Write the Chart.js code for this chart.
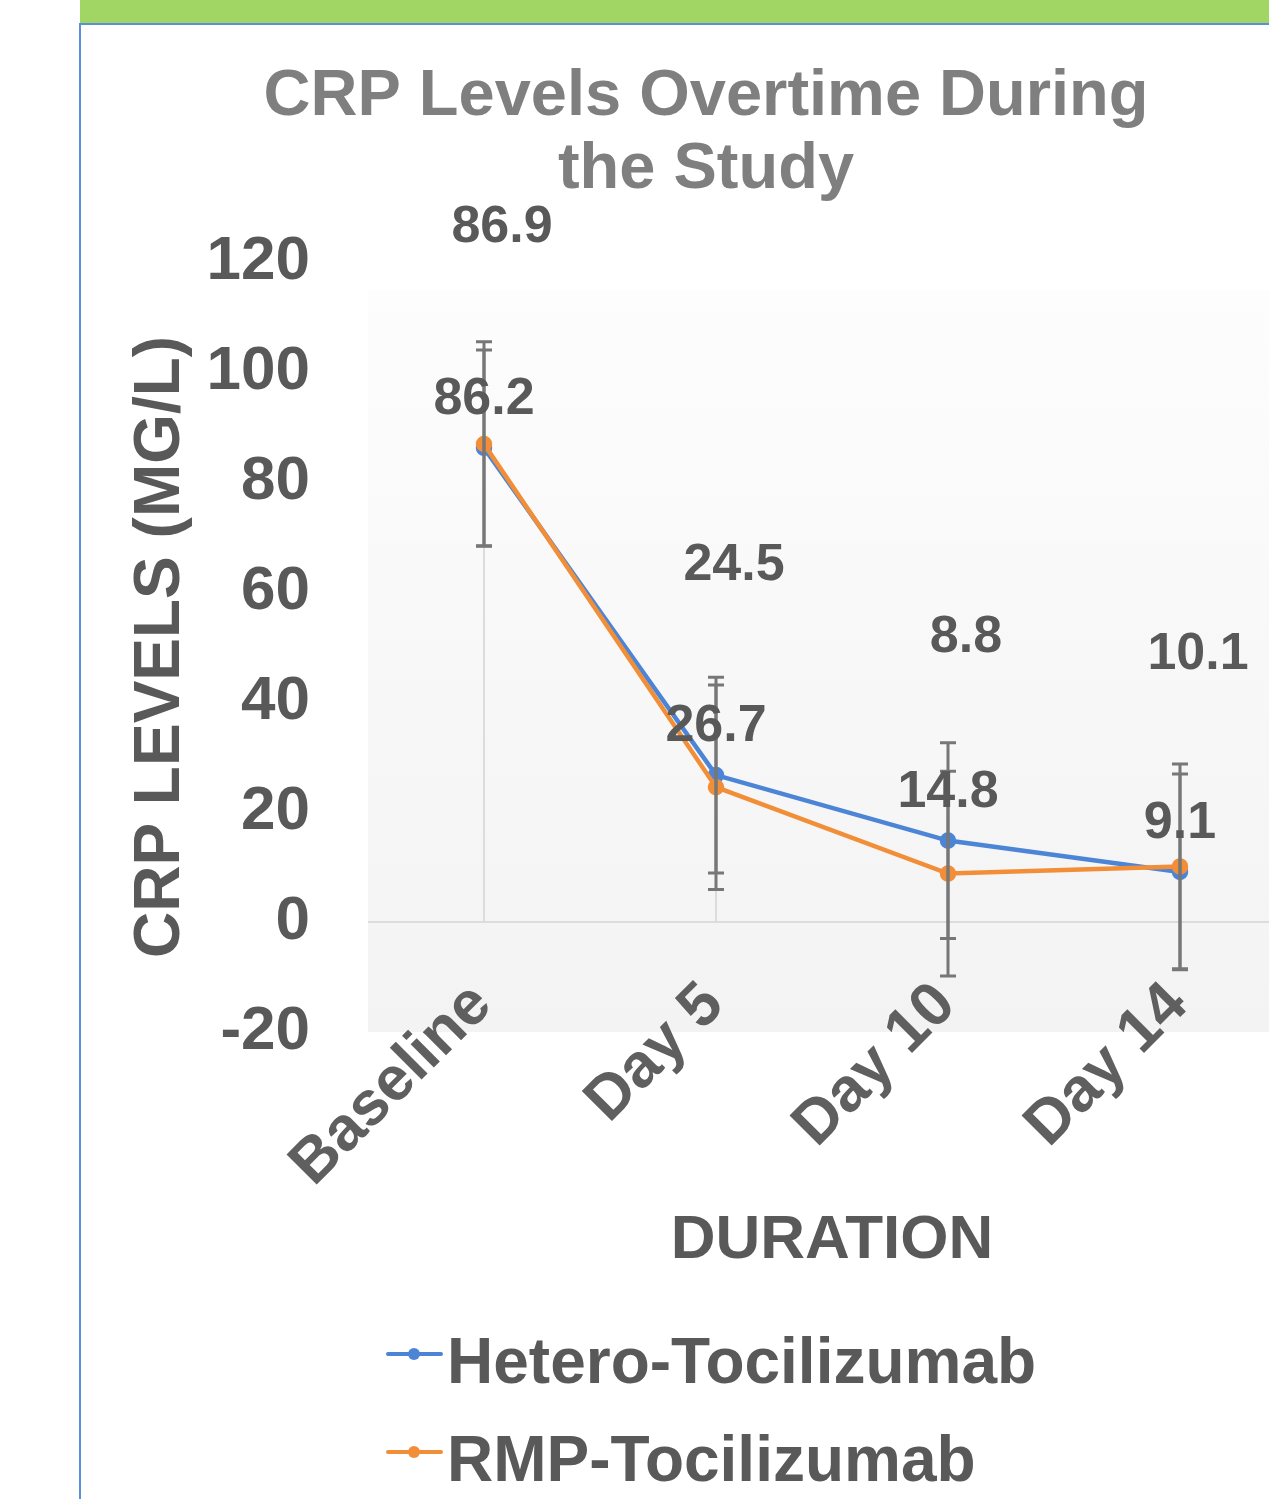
<!DOCTYPE html>
<html>
<head>
<meta charset="utf-8">
<title>CRP Levels</title>
<script src="https://cdn.jsdelivr.net/npm/chart.js"></script>
<style>
body{margin:0;width:1269px;height:1499px;overflow:hidden;background:#fff;}
#topbar{position:absolute;left:80px;top:0;width:1189px;height:23px;background:#a1d664;}
#frame{position:absolute;left:79px;top:23px;width:1188px;height:1474px;border-left:2px solid #5b8fdc;border-top:2px solid #5b8fdc;overflow:hidden;}
#crpChart{position:absolute;left:0;top:0;}
</style>
</head>
<body>
<div id="topbar"></div>
<div id="frame"><canvas id="crpChart" width="1250" height="1474"></canvas></div>
<script>
const categories = ['Baseline', 'Day 5', 'Day 10', 'Day 14'];
const heteroMeans = [86.2, 26.7, 14.8, 9.1];
const rmpMeans = [86.9, 24.5, 8.8, 10.1];
const heteroErr = [17.8, 17.8, 17.8, 17.8];
const rmpErr = [18.6, 18.6, 18.6, 18.6];
const yTicks = [-20, 0, 20, 40, 60, 80, 100, 120];

const fontFam = '"Liberation Sans", Arial, sans-serif';
const textGray = '#595959';
const blue = '#4d85d6';
const orange = '#f28e37';

// where excel put the value labels (pixels above the point)
const heteroLift = 48;
const rmpLift = [216, 222, 236, 212];
const rmpShift = 18;

const plotBg = {
    id: 'plotBg',
    beforeDraw: (chart) => {
        const {ctx, chartArea, scales} = chart;
        const top = scales.y.getPixelForValue(115);
        const bottom = scales.y.getPixelForValue(-20);
        const g = ctx.createLinearGradient(0, top, 0, bottom);
        g.addColorStop(0, '#fdfdfd');
        g.addColorStop(1, '#f3f3f3');
        ctx.save();
        ctx.fillStyle = g;
        ctx.fillRect(chartArea.left, top, chartArea.right - chartArea.left, bottom - top);
        ctx.restore();
    }
};

// drop lines from the higher point down to zero
const dropLines = {
    id: 'dropLines',
    beforeDatasetsDraw: (chart) => {
        const {ctx, scales} = chart;
        const zero = scales.y.getPixelForValue(0);
        ctx.save();
        ctx.strokeStyle = '#dcdcdc';
        ctx.lineWidth = 2;
        categories.forEach((c, i) => {
            const x = scales.x.getPixelForValue(i);
            const top = scales.y.getPixelForValue(Math.max(heteroMeans[i], rmpMeans[i]));
            ctx.beginPath();
            ctx.moveTo(x, top);
            ctx.lineTo(x, zero);
            ctx.stroke();
        });
        ctx.restore();
    }
};

const errorsAndLabels = {
    id: 'errorsAndLabels',
    afterDatasetsDraw: (chart) => {
        const {ctx, scales} = chart;
        const sets = [[heteroMeans, heteroErr], [rmpMeans, rmpErr]];
        ctx.save();
        ctx.strokeStyle = '#777777';
        ctx.lineWidth = 3;
        sets.forEach((s, d) => {
            const meta = chart.getDatasetMeta(d);
            s[0].forEach((v, i) => {
                const x = meta.data[i].x;
                const hi = scales.y.getPixelForValue(v + s[1][i]);
                const lo = scales.y.getPixelForValue(v - s[1][i]);
                ctx.beginPath();
                ctx.moveTo(x, hi); ctx.lineTo(x, lo);
                ctx.moveTo(x - 8, hi); ctx.lineTo(x + 8, hi);
                ctx.moveTo(x - 8, lo); ctx.lineTo(x + 8, lo);
                ctx.stroke();
            });
        });

        ctx.fillStyle = textGray;
        ctx.font = 'bold 52px ' + fontFam;
        ctx.textAlign = 'center';
        ctx.textBaseline = 'middle';
        const hMeta = chart.getDatasetMeta(0);
        const rMeta = chart.getDatasetMeta(1);
        heteroMeans.forEach((v, i) => {
            const p = hMeta.data[i];
            ctx.fillText(v.toFixed(1), p.x, p.y - heteroLift);
        });
        rmpMeans.forEach((v, i) => {
            const p = rMeta.data[i];
            ctx.fillText(v.toFixed(1), p.x + rmpShift, p.y - rmpLift[i]);
        });
        ctx.restore();
    }
};

// category labels, slanted 45deg and tucked up into the plot like excel does
const slantLabels = {
    id: 'slantLabels',
    afterDraw: (chart) => {
        const {ctx, chartArea, scales} = chart;
        ctx.save();
        ctx.fillStyle = '#5f5f5f';
        ctx.font = 'bold 62px ' + fontFam;
        ctx.textAlign = 'right';
        ctx.textBaseline = 'middle';
        categories.forEach((c, i) => {
            const x = scales.x.getPixelForValue(i);
            ctx.save();
            ctx.translate(x - 2, chartArea.bottom - 37);
            ctx.rotate(-Math.PI / 4);
            ctx.fillText(c, 0, 0);
            ctx.restore();
        });
        ctx.restore();
    }
};

const sideLegend = {
    id: 'sideLegend',
    afterDraw: (chart) => {
        const {ctx} = chart;
        const items = [['Hetero-Tocilizumab', blue], ['RMP-Tocilizumab', orange]];
        ctx.save();
        ctx.font = 'bold 64px ' + fontFam;
        ctx.textBaseline = 'alphabetic';
        items.forEach((it, k) => {
            const y = 1329 + k * 98;
            ctx.strokeStyle = it[1];
            ctx.fillStyle = it[1];
            ctx.lineWidth = 4;
            ctx.lineCap = 'round';
            ctx.beginPath();
            ctx.moveTo(307, y); ctx.lineTo(360, y);
            ctx.stroke();
            ctx.beginPath();
            ctx.arc(333, y, 6, 0, Math.PI * 2);
            ctx.fill();
            ctx.fillStyle = textGray;
            ctx.fillText(it[0], 366, y + 29);
        });
        ctx.restore();
    }
};

const chart = new Chart(document.getElementById('crpChart'), {
    type: 'line',
    data: {
        labels: categories,
        datasets: [
            {
                label: 'Hetero-Tocilizumab',
                data: heteroMeans,
                borderColor: blue,
                backgroundColor: blue,
                borderWidth: 4.5,
                pointRadius: 6,
                pointHoverRadius: 6,
                order: 2
            },
            {
                label: 'RMP-Tocilizumab',
                data: rmpMeans,
                borderColor: orange,
                backgroundColor: orange,
                borderWidth: 4.5,
                pointRadius: 6,
                pointHoverRadius: 6,
                order: 1
            }
        ]
    },
    options: {
        responsive: false,
        animation: false,
        layout: {padding: {left: 35, right: 35, top: 0, bottom: 207}},
        plugins: {
            legend: {display: false},
            tooltip: {enabled: false},
            title: {
                display: true,
                text: ['CRP Levels Overtime During', 'the Study'],
                color: '#7f7f7f',
                font: {family: fontFam, size: 65, weight: 'bold', lineHeight: 1.13},
                padding: {top: 35, bottom: 55}
            }
        },
        scales: {
            x: {
                offset: true,
                grid: {display: false},
                border: {display: false},
                ticks: {display: false},
                title: {
                    display: true,
                    text: 'DURATION',
                    color: textGray,
                    font: {family: fontFam, size: 62, weight: 'bold'},
                    padding: {top: 0, bottom: 14}
                },
                afterFit: (s) => { s.height = 260; }
            },
            y: {
                min: -20,
                max: 120,
                afterBuildTicks: (s) => { s.ticks = yTicks.map(v => ({value: v})); },
                grid: {
                    drawTicks: false,
                    lineWidth: 2,
                    color: (c) => c.tick && c.tick.value === 0 ? '#dcdcdc' : 'rgba(0,0,0,0)'
                },
                border: {display: false},
                ticks: {
                    color: textGray,
                    font: {family: fontFam, size: 62, weight: 'bold'},
                    padding: 58
                },
                title: {
                    display: true,
                    text: 'CRP LEVELS (MG/L)',
                    color: textGray,
                    font: {family: fontFam, size: 64, weight: 'bold'},
                    padding: {top: 7, bottom: 0}
                },
                afterFit: (s) => { s.width = 252; }
            }
        }
    },
    plugins: [plotBg, dropLines, errorsAndLabels, slantLabels, sideLegend]
});
</script>
</body>
</html>
